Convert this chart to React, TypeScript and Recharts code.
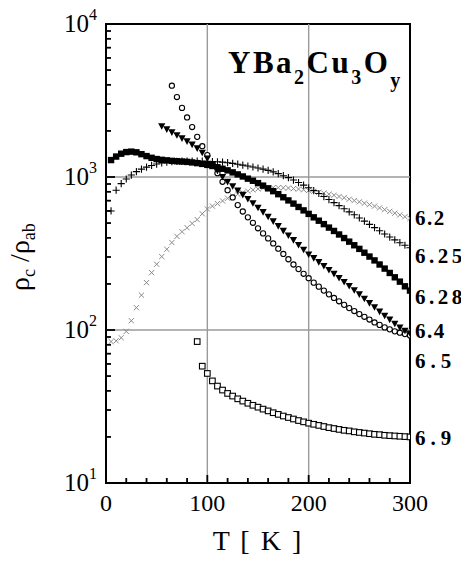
import React from "react";
import { ScatterChart, Scatter, XAxis, YAxis, ReferenceLine, ReferenceArea } from "recharts";

// Temperature grid (K)
const TEMPS = [5, 10, 15, 20, 25, 30, 35, 40, 45, 50, 55, 60, 65, 70, 75, 80, 85, 90, 95, 100,
  105, 110, 115, 120, 125, 130, 135, 140, 145, 150, 155, 160, 165, 170, 175, 180, 185, 190, 195, 200,
  205, 210, 215, 220, 225, 230, 235, 240, 245, 250, 255, 260, 265, 270, 275, 280, 285, 290, 295, 300];

// rho_c / rho_ab for each oxygen content
const Y62 = [84, 85, 89, 98, 115, 140, 169, 204, 237, 269, 302, 337, 373, 409, 439, 466, 497, 527, 575, 618,
  645, 670, 698, 726, 750, 772, 790, 808, 824, 836, 845, 850, 852, 852, 850, 847, 840, 834, 826, 817,
  806, 795, 784, 772, 760, 746, 732, 716, 702, 688, 674, 660, 645, 628, 612, 596, 580, 565, 550, 537];
const Y625 = [600, 820, 905, 970, 1030, 1085, 1125, 1160, 1190, 1215, 1235, 1250, 1260, 1265, 1270, 1272, 1272, 1270, 1268, 1265,
  1262, 1258, 1250, 1240, 1228, 1212, 1195, 1180, 1162, 1145, 1125, 1105, 1080, 1052, 1020, 990, 955, 920, 885, 850,
  815, 780, 745, 712, 680, 650, 620, 592, 566, 540, 515, 490, 467, 445, 424, 405, 388, 372, 358, 345];
const Y628 = [1290, 1360, 1420, 1455, 1465, 1450, 1410, 1370, 1335, 1310, 1295, 1285, 1275, 1268, 1262, 1255, 1245, 1232, 1218, 1200,
  1180, 1158, 1132, 1105, 1072, 1040, 1008, 975, 945, 912, 878, 843, 808, 772, 737, 703, 670, 637, 605, 574,
  545, 518, 492, 467, 444, 421, 399, 378, 358, 339, 320, 302, 285, 268, 252, 236, 221, 207, 193, 181];
const Y64 = [null, null, null, null, null, null, null, null, null, null, 2150, 2050, 1960, 1875, 1790, 1710, 1630, 1540, 1440, 1320,
  1200, 1100, 1000, 930, 870, 815, 765, 718, 674, 630, 590, 550, 513, 478, 445, 415, 387, 360, 335, 312,
  295, 278, 262, 247, 233, 219, 206, 194, 182, 171, 160, 150, 141, 132, 124, 117, 110, 104, 99, 95];
const Y65 = [null, null, null, null, null, null, null, null, null, null, null, null, 3950, 3330, 2830, 2450, 2120, 1830, 1590, 1390,
  1210, 1060, 930, 820, 735, 655, 595, 545, 502, 462, 428, 397, 368, 340, 314, 290, 268, 250, 233, 218,
  204, 192, 181, 171, 162, 154, 146, 139, 133, 127, 122, 117, 112, 108, 104, 101, 98, 96, 94, 92];
const Y69 = [null, null, null, null, null, null, null, null, null, null, null, null, null, null, null, null, null, 84, 58, 52,
  46.5, 43, 40.5, 38.5, 37, 35.5, 34.3, 33.2, 32.2, 31.3, 30.4, 29.6, 28.8, 28.1, 27.4, 26.8, 26.2, 25.6, 25.1, 24.6,
  24.2, 23.8, 23.4, 23.0, 22.7, 22.4, 22.1, 21.9, 21.6, 21.4, 21.2, 21.0, 20.8, 20.7, 20.5, 20.4, 20.3, 20.2, 20.1, 20.0];

// Curve labels on the right and the value level where each sits
const CURVE_LABELS = ["6.2", "6.25", "6.28", "6.4", "6.5", "6.9"];
const CURVE_LABEL_LEVELS = [540, 303, 164, 98, 62.4, 19.7];
const CURVE_LABEL_SPACING = [1.5, 3.5, 3.5, 1.5, 5, 5];

// Axes
const X_TICKS = [0, 20, 40, 60, 80, 100, 120, 140, 160, 180, 200, 220, 240, 260, 280, 300];
const X_LABELED = [0, 100, 200, 300];
const Y_TICKS = [10, 20, 30, 40, 50, 60, 70, 80, 90, 100, 200, 300, 400, 500, 600, 700, 800, 900,
  1000, 2000, 3000, 4000, 5000, 6000, 7000, 8000, 9000, 10000];
const Y_MAJOR = [10, 100, 1000, 10000];
const Y_EXP: Record<number, string> = { 10: "1", 100: "2", 1000: "3", 10000: "4" };
const GRID_X = [100, 200];
const GRID_Y = [100, 1000];

const FONT = "Tinos, 'Times New Roman', Times, 'Liberation Serif', 'Nimbus Roman', 'Nimbus Roman No9 L', serif";
const TXT = { fontFamily: FONT };

const toPoints = (vals: (number | null)[]) =>
  TEMPS.map((t, i) => ({ t, v: vals[i] })).filter((p) => p.v != null);

const CrossShape = (p: any) => {
  const { cx, cy } = p;
  const s = 2.6;
  return <path d={`M${cx - s},${cy - s}L${cx + s},${cy + s}M${cx - s},${cy + s}L${cx + s},${cy - s}`} stroke="#8a8a8a" strokeWidth={1} fill="none" />;
};
const PlusShape = (p: any) => {
  const { cx, cy } = p;
  const s = 3.6;
  return <path d={`M${cx - s},${cy}L${cx + s},${cy}M${cx},${cy - s}L${cx},${cy + s}`} stroke="#000" strokeWidth={1.1} fill="none" />;
};
const FilledSquare = (p: any) => {
  const { cx, cy } = p;
  return <rect x={cx - 3.2} y={cy - 3.2} width={6.4} height={6.4} fill="#000" />;
};
const DownTriangle = (p: any) => {
  const { cx, cy } = p;
  return <path d={`M${cx - 3.6},${cy - 3}L${cx + 3.6},${cy - 3}L${cx},${cy + 3.6}Z`} fill="#000" />;
};
const OpenCircle = (p: any) => {
  const { cx, cy } = p;
  return <circle cx={cx} cy={cy} r={2.6} fill="#fff" stroke="#000" strokeWidth={1.1} />;
};
const OpenSquare = (p: any) => {
  const { cx, cy } = p;
  return <rect x={cx - 2.8} y={cy - 2.8} width={5.6} height={5.6} fill="#fff" stroke="#000" strokeWidth={1.1} />;
};

const BottomTick = (props: any) => {
  const { x, y, payload } = props;
  const v = payload.value;
  const major = v % 100 === 0;
  return (
    <g>
      <line x1={x} x2={x} y1={y} y2={y - (major ? 8 : 5)} stroke="#000" strokeWidth={1.8} />
      {X_LABELED.includes(v) && (
        <text x={x} y={y + 28} textAnchor="middle" style={TXT} fontSize={24} fill="#000">{v}</text>
      )}
    </g>
  );
};
const TopTick = (props: any) => {
  const { x, y, payload } = props;
  const major = payload.value % 100 === 0;
  return <line x1={x} x2={x} y1={y} y2={y + (major ? 8 : 5)} stroke="#000" strokeWidth={1.8} />;
};
const LeftTick = (props: any) => {
  const { x, y, payload } = props;
  const v = payload.value;
  const major = Y_MAJOR.includes(v);
  return (
    <g>
      <line x1={x} x2={x + (major ? 9 : 5)} y1={y} y2={y} stroke="#000" strokeWidth={1.8} />
      {major && (
        <text x={x - 9} y={y + 8} textAnchor="end" style={TXT} fontSize={25} fill="#000">
          10<tspan fontSize={16} dy={-12}>{Y_EXP[v]}</tspan>
        </text>
      )}
    </g>
  );
};
const RightTick = (props: any) => {
  const { x, y, payload } = props;
  const major = Y_MAJOR.includes(payload.value);
  return <line x1={x} x2={x - (major ? 9 : 5)} y1={y} y2={y} stroke="#000" strokeWidth={1.8} />;
};
const LabelTick = (props: any) => {
  const { x, y, index } = props;
  return (
    <text x={x + 5} y={y + 7} style={TXT} fontWeight="bold" fontSize={21} letterSpacing={CURVE_LABEL_SPACING[index]} fill="#000">
      {CURVE_LABELS[index]}
    </text>
  );
};

export default function App() {
  const W = 469;
  const H = 563;
  return (
    <div style={{ position: "relative", width: W, height: H, margin: -8, fontFamily: FONT }}>
      <ScatterChart width={W} height={H} margin={{ top: 24, right: 4, bottom: 40, left: 46 }}>
        <XAxis xAxisId={0} type="number" dataKey="t" domain={[0, 300]} ticks={X_TICKS} interval={0}
          axisLine={false} tickLine={false} tickSize={0} tickMargin={0} height={40} tick={<BottomTick />} allowDataOverflow />
        <XAxis xAxisId="top" orientation="top" type="number" domain={[0, 300]} ticks={X_TICKS} interval={0}
          axisLine={false} tickLine={false} tickSize={0} tickMargin={0} height={0} tick={<TopTick />} allowDataOverflow />
        <YAxis yAxisId={0} type="number" dataKey="v" scale="log" domain={[10, 10000]} ticks={Y_TICKS} interval={0}
          axisLine={false} tickLine={false} tickSize={0} tickMargin={0} width={60} tick={<LeftTick />} allowDataOverflow />
        <YAxis yAxisId="rt" orientation="right" type="number" scale="log" domain={[10, 10000]} ticks={Y_TICKS} interval={0}
          axisLine={false} tickLine={false} tickSize={0} tickMargin={0} width={0} tick={<RightTick />} allowDataOverflow />
        <YAxis yAxisId="rl" orientation="right" type="number" scale="log" domain={[10, 10000]} ticks={CURVE_LABEL_LEVELS} interval={0}
          axisLine={false} tickLine={false} tickSize={0} tickMargin={0} width={55} tick={<LabelTick />} allowDataOverflow />

        {GRID_X.map((g) => (
          <ReferenceLine key={"gx" + g} x={g} stroke="#9a9a9a" strokeWidth={1.4} />
        ))}
        {GRID_Y.map((g) => (
          <ReferenceLine key={"gy" + g} y={g} stroke="#9a9a9a" strokeWidth={1.4} />
        ))}

        <Scatter data={toPoints(Y62)} dataKey="v" shape={CrossShape} isAnimationActive={false} />
        <Scatter data={toPoints(Y69)} dataKey="v" shape={OpenSquare} isAnimationActive={false} />
        <Scatter data={toPoints(Y65)} dataKey="v" shape={OpenCircle} isAnimationActive={false} />
        <Scatter data={toPoints(Y64)} dataKey="v" shape={DownTriangle} isAnimationActive={false} />
        <Scatter data={toPoints(Y628)} dataKey="v" shape={FilledSquare} isAnimationActive={false} />
        <Scatter data={toPoints(Y625)} dataKey="v" shape={PlusShape} isAnimationActive={false} />

        <ReferenceArea x1={0} x2={300} y1={10} y2={10000} fill="none" fillOpacity={0} stroke="#000" strokeWidth={2} />
      </ScatterChart>

      <svg width={W} height={H} style={{ position: "absolute", left: 0, top: 0, pointerEvents: "none" }}>
        <text x={228} y={73} style={TXT} fontWeight="bold" fontSize={31} letterSpacing={2.5} fill="#000">
          YBa<tspan fontSize={20} dy={11}>2</tspan>
          <tspan dy={-11}>Cu</tspan>
          <tspan fontSize={20} dy={11}>3</tspan>
          <tspan dy={-11}>O</tspan>
          <tspan fontSize={20} dy={14}>y</tspan>
        </text>
        <text transform="translate(29,257) rotate(-90)" textAnchor="middle" style={TXT} fontSize={28} fill="#000">
          ρ<tspan fontSize={18} dy={6}>c</tspan>
          <tspan dy={-6}> /ρ</tspan>
          <tspan fontSize={18} dy={6}>ab</tspan>
        </text>
        <text x={258} y={550} textAnchor="middle" style={TXT} fontSize={28} letterSpacing={2} fill="#000">
          T [ K ]
        </text>
      </svg>
    </div>
  );
}
